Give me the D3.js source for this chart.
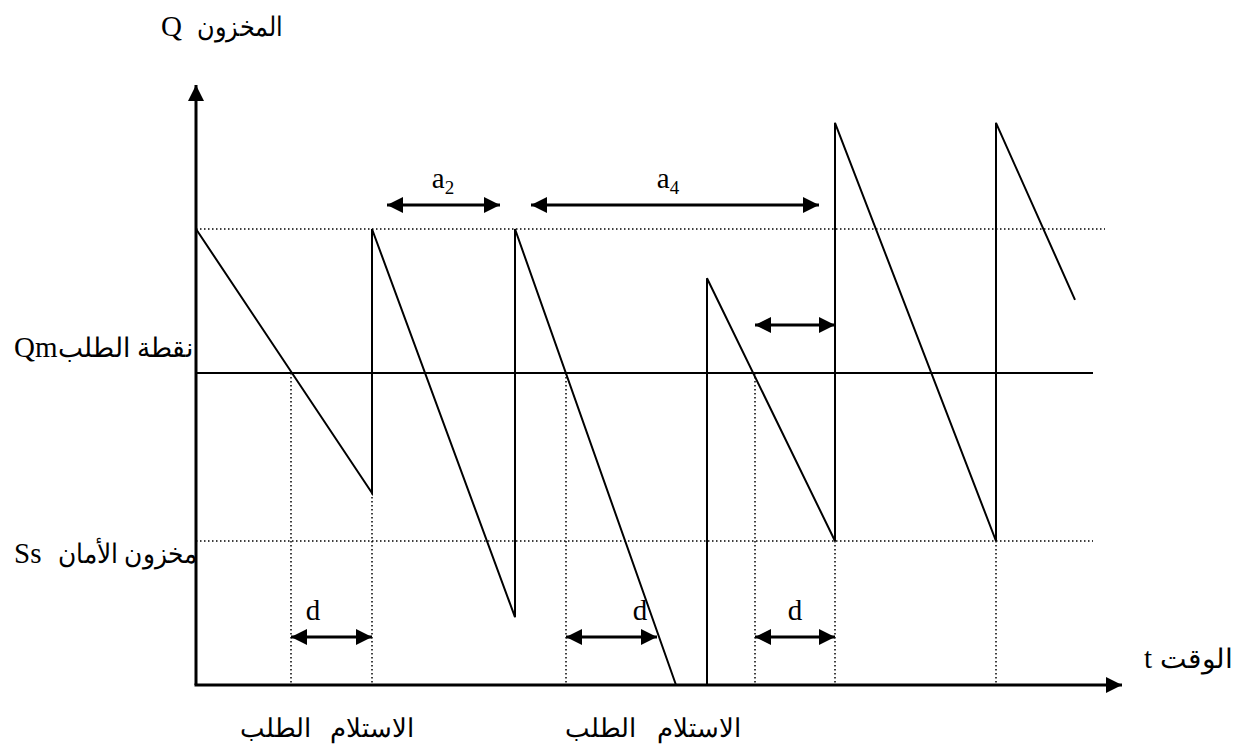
<!DOCTYPE html>
<html>
<head>
<meta charset="utf-8">
<script src="https://cdn.jsdelivr.net/npm/d3@7"></script>
<style>
  body { margin: 0; background: #fff; }
  text { font-family: "Liberation Serif", "DejaVu Serif", serif; fill: #000; }
</style>
</head>
<body>
<svg id="chart" width="1247" height="753"></svg>
<script>
// stock level over time (t, Q), two separate runs of the saw tooth
const stockRun1 = [[0, 76], [17.6, 32], [17.6, 76], [31.9, 11.3], [31.9, 76], [48, 0]];
const stockRun2 = [[51.1, 0], [51.1, 67.8], [63.9, 24], [63.9, 93.7], [80, 24], [80, 93.7], [87.9, 64.2]];

// reference levels
const levelNames = ["Qmax", "Qm", "Ss"];
const levelValues = [76, 52, 24];
const levelEnds = [90.9, 89.7, 89.7];

// order and receipt moments, with the level where their dotted guide starts
const guideTimes = [9.5, 17.6, 37, 55.9, 63.9, 80];
const guideFrom = [52, 32, 52, 52, 24, 24];

// interval arrows
const intervalFrom = [19.1, 33.5, 55.9, 9.5, 37, 55.9];
const intervalTo = [30.4, 62.3, 63.9, 17.6, 46.1, 63.9];
const intervalLevel = [80, 80, 60, 8, 8, 8];
const intervalLabel = ["a2", "a4", "", "d", "d", "d"];
const intervalLabelAt = [24.7, 47.2, 0, 11.7, 44.4, 59.9];

// bottom event labels
const eventTimes = [7.9, 17.6, 40.4, 50.3];
const eventLabels = ["الطلب", "الاستلام", "الطلب", "الاستلام"];

const svg = d3.select("#chart");

const x = d3.scaleLinear().domain([0, 92.6]).range([196, 1122]);
const y = d3.scaleLinear().domain([0, 100]).range([685, 85]);

const defs = svg.append("defs");
defs.append("marker")
  .attr("id", "head")
  .attr("markerUnits", "userSpaceOnUse")
  .attr("viewBox", "0 0 16 16")
  .attr("refX", 16).attr("refY", 8)
  .attr("markerWidth", 16).attr("markerHeight", 16)
  .attr("orient", "auto-start-reverse")
  .append("path").attr("d", "M0,0 L16,8 L0,16 Z").attr("fill", "#000");

// dotted guides
svg.append("g").selectAll("line")
  .data(guideTimes)
  .join("line")
  .attr("x1", (d) => x(d)).attr("x2", (d) => x(d))
  .attr("y1", (d, i) => y(guideFrom[i])).attr("y2", y(0))
  .attr("stroke", "#000").attr("stroke-width", 1.5)
  .attr("stroke-dasharray", "1.5,2.5");

// level lines
svg.append("g").selectAll("line")
  .data(levelValues)
  .join("line")
  .attr("x1", x(0)).attr("x2", (d, i) => x(levelEnds[i]))
  .attr("y1", (d) => y(d)).attr("y2", (d) => y(d))
  .attr("stroke", "#000")
  .attr("stroke-width", (d, i) => (levelNames[i] === "Qm" ? 2 : 1.5))
  .attr("stroke-dasharray", (d, i) => (levelNames[i] === "Qm" ? null : "1.5,2.5"));

// saw tooth
const line = d3.line().x((d) => x(d[0])).y((d) => y(d[1]));
svg.append("g").selectAll("path")
  .data([stockRun1, stockRun2])
  .join("path")
  .attr("d", line)
  .attr("fill", "none")
  .attr("stroke", "#000")
  .attr("stroke-width", 2);

// axes
svg.append("line")
  .attr("x1", x(0)).attr("y1", y(0)).attr("x2", x(0)).attr("y2", y(100))
  .attr("stroke", "#000").attr("stroke-width", 3)
  .attr("marker-end", "url(#head)");
svg.append("line")
  .attr("x1", x(0) - 1.5).attr("y1", y(0)).attr("x2", x(92.6)).attr("y2", y(0))
  .attr("stroke", "#000").attr("stroke-width", 3)
  .attr("marker-end", "url(#head)");

// interval arrows
svg.append("g").selectAll("line")
  .data(intervalFrom)
  .join("line")
  .attr("x1", (d) => x(d)).attr("x2", (d, i) => x(intervalTo[i]))
  .attr("y1", (d, i) => y(intervalLevel[i])).attr("y2", (d, i) => y(intervalLevel[i]))
  .attr("stroke", "#000").attr("stroke-width", 3)
  .attr("marker-start", "url(#head)")
  .attr("marker-end", "url(#head)");

const labels = svg.append("g").selectAll("text")
  .data(intervalLabel.map((l, i) => ({ l, i })).filter((d) => d.l))
  .join("text")
  .attr("x", (d) => x(intervalLabelAt[d.i]))
  .attr("y", (d) => y(intervalLevel[d.i]) - 17)
  .attr("text-anchor", "middle")
  .attr("font-size", 29);
labels.append("tspan").text((d) => d.l[0]);
labels.filter((d) => d.l.length > 1)
  .append("tspan")
  .attr("font-size", 19)
  .attr("dy", 6)
  .text((d) => d.l.slice(1));

// bottom event labels
svg.append("g").selectAll("text")
  .data(eventLabels)
  .join("text")
  .attr("x", (d, i) => x(eventTimes[i]))
  .attr("y", 737)
  .attr("text-anchor", "middle")
  .attr("font-size", 26)
  .text((d) => d);

// axis and level captions
const caption = (txt, xx, yy, anchor, size, len) => {
  const t = svg.append("text").attr("x", xx).attr("y", yy)
    .attr("text-anchor", anchor).attr("font-size", size).text(txt);
  if (len) t.attr("textLength", len).attr("lengthAdjust", "spacingAndGlyphs");
};

caption("Q", 161, 36, "start", 29);
caption("المخزون", 283, 36, "end", 27, 86);
caption("Qm", 14, 357, "start", 29);
caption("نقطة الطلب", 194, 357, "end", 27, 136);
caption("Ss", 14, 563, "start", 29);
caption("مخزون الأمان", 197, 563, "end", 27, 139);
caption("t", 1144, 668, "start", 29);
caption("الوقت", 1233, 668, "end", 27, 73);
</script>
</body>
</html>
